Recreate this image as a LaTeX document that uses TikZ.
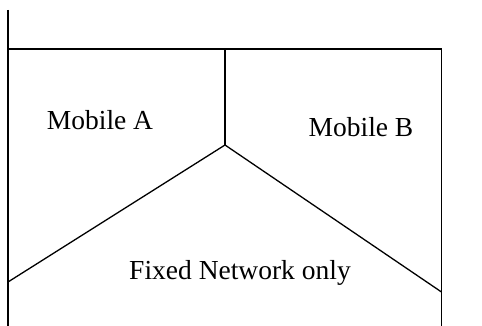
\documentclass[tikz,border=0pt]{standalone}
\usepackage{fontspec}
\setmainfont{Liberation Serif}
\begin{document}
\begin{tikzpicture}[x=1pt,y=-1pt,
  edge/.style={line width=1.3pt,black},
  lbl/.style={font=\fontsize{27.5}{30}\selectfont,inner sep=0pt,anchor=base}]
\useasboundingbox (0,0) rectangle (482,326);
\coordinate (ltop) at (8,10);
\coordinate (lbot) at (8,326);
\coordinate (tl) at (8,49);
\coordinate (tr) at (441.5,49);
\coordinate (rbot) at (441.5,326);
\coordinate (mtop) at (225,49);
\coordinate (apex) at (225,145);
\coordinate (lend) at (8,282);
\coordinate (rend) at (441.5,292);
\draw[edge] (ltop) -- (lbot);
\draw[edge] (tl) -- (tr) -- (rbot);
\draw[edge] (mtop) -- (apex);
\draw[edge] (lend) -- (apex) -- (rend);
\node[lbl] (ma) at (100,130) {Mobile A};
\node[lbl] (mb) at (361,137) {Mobile B};
\node[lbl] (fn) at (240,279) {Fixed Network only};
\end{tikzpicture}
\end{document}
